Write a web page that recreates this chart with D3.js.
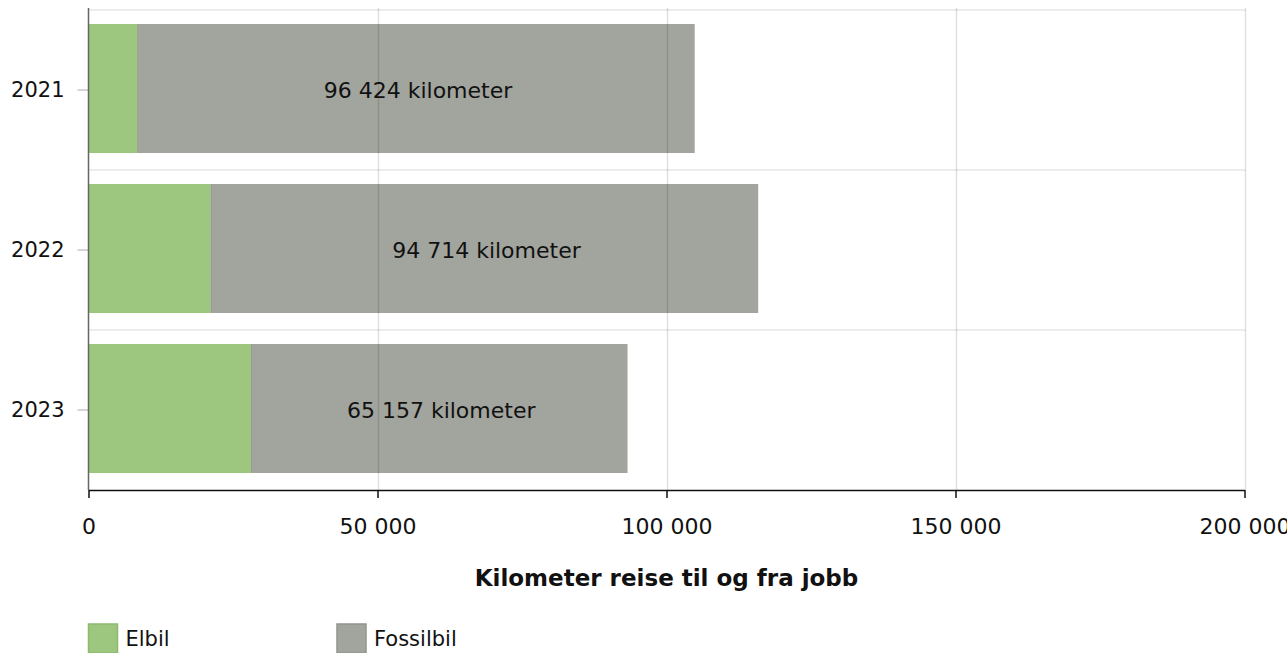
<!DOCTYPE html>
<html>
<head>
<meta charset="utf-8">
<script src="https://cdn.jsdelivr.net/npm/d3@7"></script>
<style>
  html, body { margin: 0; padding: 0; background: #fff; }
  svg { display: block; font-family: "DejaVu Sans", Verdana, sans-serif; }
</style>
</head>
<body>
<svg id="chart" width="1287" height="653"></svg>
<script>
const years = ["2021", "2022", "2023"];
const elbil = [8450, 21150, 28100];
const fossilbil = [96424, 94714, 65157];
const xTicks = [0, 50000, 100000, 150000, 200000];
const seriesNames = ["Elbil", "Fossilbil"];
const seriesColors = ["#9dc67f", "#a2a49e"];
const seriesStroke = ["#8dbb6d", "#92948e"];
const axisTitle = "Kilometer reise til og fra jobb";

const svg = d3.select("#chart");
const plotLeft = 88.5, plotRight = 1244.5, plotTop = 10, plotBottom = 490;

const x = d3.scaleLinear().domain([0, 200000]).range([plotLeft, plotRight]);
const y = d3.scaleBand().domain(years).range([plotTop, plotBottom])
  .paddingInner(0.1937).paddingOuter(0.0969);

const fmt = v => d3.format(",")(v).replace(/,/g, " ");

// horizontal grid lines (band boundaries)
const hLines = [plotTop, plotTop + y.step(), plotTop + 2 * y.step()];
svg.append("g").selectAll("line").data(hLines).join("line")
  .attr("x1", plotLeft).attr("x2", plotRight + 1)
  .attr("y1", d => d).attr("y2", d => d)
  .attr("stroke", "#e6e6e6").attr("stroke-width", 1.5);

const rows = years.map((yr, i) => ({ yr, e: elbil[i], f: fossilbil[i] }));

// bars
const g = svg.append("g");
g.selectAll("rect.el").data(rows).join("rect")
  .attr("class", "el")
  .attr("x", x(0)).attr("y", d => y(d.yr) - 1.5)
  .attr("width", d => x(d.e) - x(0)).attr("height", y.bandwidth())
  .attr("fill", seriesColors[0]);
g.selectAll("rect.fo").data(rows).join("rect")
  .attr("class", "fo")
  .attr("x", d => x(d.e)).attr("y", d => y(d.yr) - 1.5)
  .attr("width", d => x(d.e + d.f) - x(d.e)).attr("height", y.bandwidth())
  .attr("fill", seriesColors[1]);
g.selectAll("line.sep").data(rows).join("line")
  .attr("class", "sep")
  .attr("x1", d => x(d.e) + 0.5).attr("x2", d => x(d.e) + 0.5)
  .attr("y1", d => y(d.yr) - 1.5).attr("y2", d => y(d.yr) - 1.5 + y.bandwidth())
  .attr("stroke", "#979a92").attr("stroke-width", 1);

// vertical grid lines (drawn over bars)
svg.append("g").selectAll("line").data(xTicks.slice(1)).join("line")
  .attr("x1", d => Math.round(x(d)) + 0.5).attr("x2", d => Math.round(x(d)) + 0.5)
  .attr("y1", 8).attr("y2", plotBottom)
  .attr("stroke", "rgba(0,0,0,0.12)").attr("stroke-width", 1.5);

// value labels on fossil segment
g.selectAll("text.lbl").data(rows).join("text")
  .attr("class", "lbl")
  .attr("x", d => (x(d.e) + x(d.e + d.f)) / 2 + 2)
  .attr("y", d => y(d.yr) + y.bandwidth() / 2)
  .attr("dy", "0.35em")
  .attr("text-anchor", "middle")
  .attr("font-size", 22).attr("fill", "#111")
  .text(d => fmt(d.f) + " kilometer");

// y axis
const yAxis = svg.append("g").attr("transform", `translate(${plotLeft},0)`)
  .call(d3.axisLeft(y).tickSize(11).tickPadding(13));
yAxis.select(".domain").remove();
yAxis.append("line").attr("x1", 0).attr("x2", 0).attr("y1", 8).attr("y2", plotBottom)
  .attr("stroke", "#666").attr("stroke-width", 1.5);
yAxis.selectAll(".tick line").attr("stroke", "#aaa");
yAxis.selectAll(".tick text").attr("font-size", 21).attr("fill", "#111")
  .attr("font-family", "DejaVu Sans, Verdana, sans-serif");

// x axis
const xAxis = svg.append("g").attr("transform", `translate(0,${plotBottom})`)
  .call(d3.axisBottom(x).tickValues(xTicks).tickFormat(fmt).tickSize(8).tickSizeOuter(0).tickPadding(20));
xAxis.select(".domain").attr("stroke", "#111").attr("stroke-width", 1.5);
xAxis.selectAll(".tick line").attr("stroke", "#111").attr("stroke-width", 1.5);
xAxis.selectAll(".tick text").attr("font-size", 22).attr("fill", "#111")
  .attr("font-family", "DejaVu Sans, Verdana, sans-serif");

// axis title
svg.append("text")
  .attr("x", (plotLeft + plotRight) / 2).attr("y", 586)
  .attr("text-anchor", "middle")
  .attr("font-size", 23).attr("font-weight", "bold").attr("fill", "#111")
  .text(axisTitle);

// legend
const legX = [88.5, 337];
const leg = svg.append("g").selectAll("g").data(seriesNames).join("g")
  .attr("transform", (d, i) => `translate(${legX[i]},624)`);
leg.append("rect").attr("width", 29).attr("height", 29)
  .attr("fill", (d, i) => seriesColors[i])
  .attr("stroke", (d, i) => seriesStroke[i]).attr("stroke-width", 1.5);
leg.append("text").attr("x", 37).attr("y", 22)
  .attr("font-size", 21).attr("fill", "#111")
  .text(d => d);
</script>
</body>
</html>
